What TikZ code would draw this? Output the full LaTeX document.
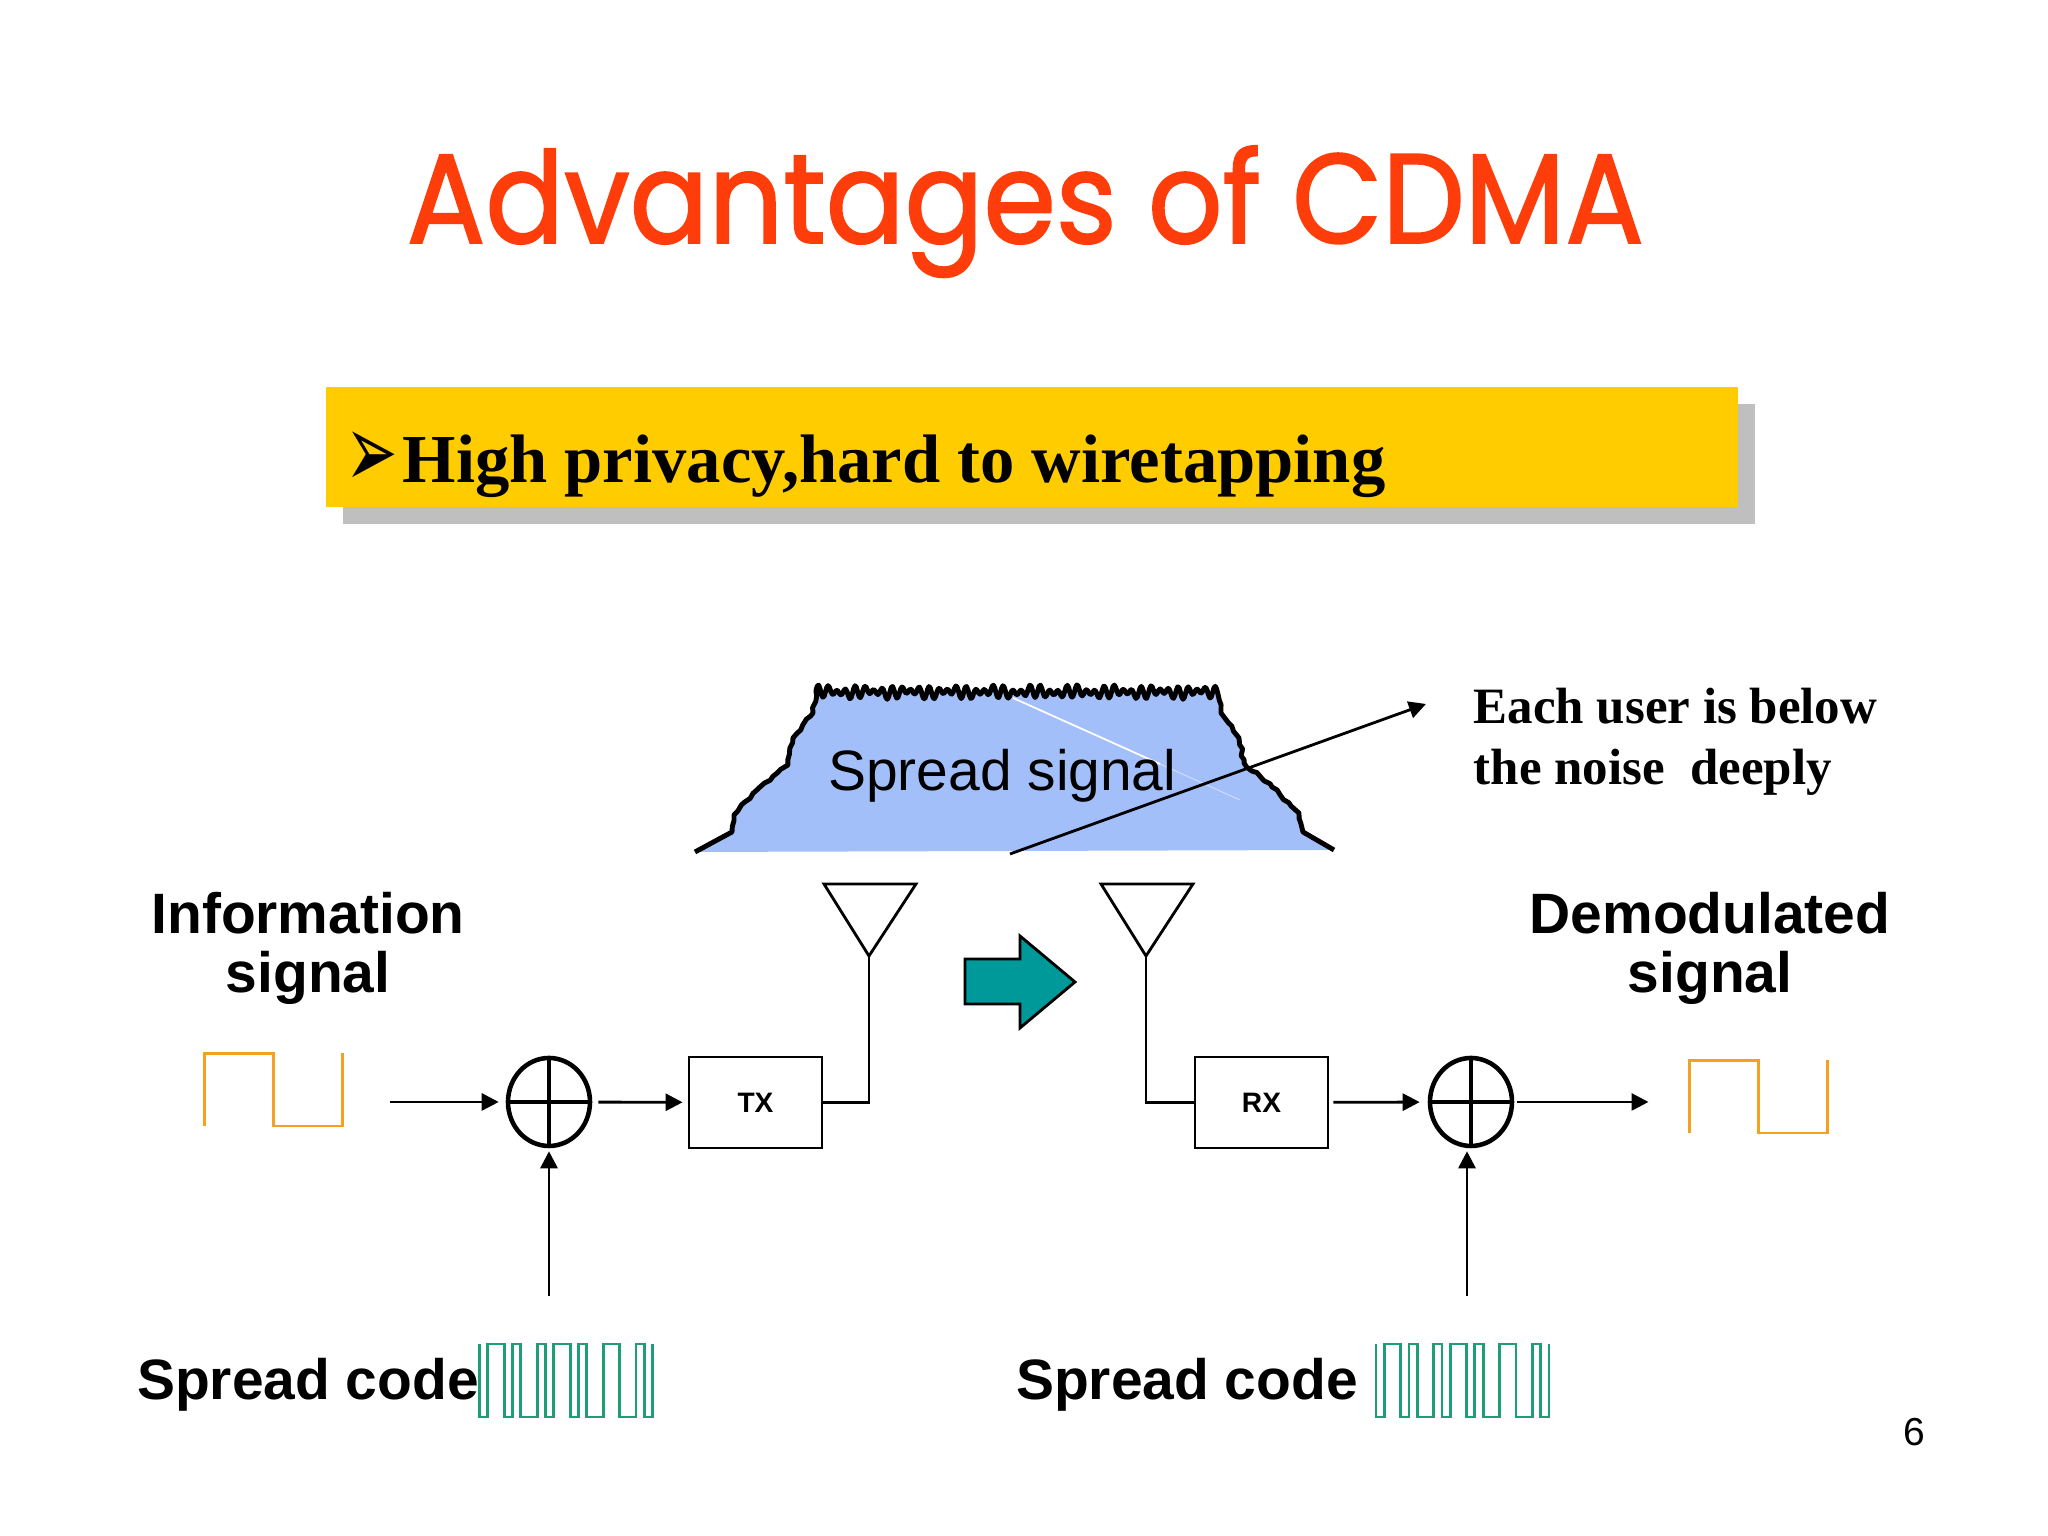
\documentclass[tikz,border=0pt]{standalone}
\usepackage{fontspec}
\usepackage{graphicx}
\setmainfont{Liberation Serif}
\setsansfont{Liberation Sans}
\newfontfamily\titlefont[FakeBold=1.5]{Poppins}
\newfontfamily\bulletfont{DejaVu Sans}
\usetikzlibrary{positioning, arrows.meta, shapes.geometric, decorations.pathmorphing}

\definecolor{titlered}{HTML}{FF3D0A}
\definecolor{baryellow}{HTML}{FFCC00}
\definecolor{barshadow}{HTML}{BFBFBF}
\definecolor{skyfill}{HTML}{A3BFFA}
\definecolor{tealfill}{HTML}{009999}
\definecolor{infoorange}{HTML}{F5A01E}
\definecolor{codegreen}{HTML}{1E9E78}

\begin{document}
\begin{tikzpicture}[
    thinline/.style={line width=0.8pt},
    arrow/.style={line width=0.8pt, -{Triangle[length=0.17cm, width=0.17cm]}},
    bigtext/.style={font=\sffamily\bfseries\fontsize{16.2}{16.8}\selectfont, align=center, inner sep=0pt},
    serifbold/.style={font=\bfseries\fontsize{14.5}{17}\selectfont, inner sep=0pt, anchor=base west},
    radiobox/.style={rectangle, draw, thinline, minimum width=1.33cm, minimum height=0.91cm, inner sep=0pt, font=\sffamily\bfseries\fontsize{8}{9}\selectfont},
    xorcircle/.style={ellipse, draw, line width=1.3pt, minimum width=0.82cm, minimum height=0.88cm, inner sep=0pt},
    barbox/.style={rectangle, minimum width=14.12cm, minimum height=1.2cm},
    roughside/.style={decoration={random steps, segment length=1.6pt, amplitude=0.4pt}},
    squarewave/.pic={
        \draw[infoorange, line width=0.8pt, x=0.69cm, y=0.725cm] (0,0) -- (0,1) -- (1,1) -- (1,0) -- (2,0) -- (2,1);
    },
    codewave/.pic={
        \draw[codegreen, line width=0.8pt, x=0.0824cm, y=0.73cm] (0,1) -- (0,0) -- (1,0) -- (1,1) -- (3,1) -- (3,0) -- (4,0) -- (4,1) -- (5,1) -- (5,0) -- (7,0) -- (7,1) -- (8,1) -- (8,0) -- (9,0) -- (9,1) -- (11,1) -- (11,0) -- (12,0) -- (12,1) -- (13,1) -- (13,0) -- (15,0) -- (15,1) -- (17,1) -- (17,0) -- (19,0) -- (19,1) -- (20,1) -- (20,0) -- (21,0) -- (21,1);
    }
]
\useasboundingbox (0,0) rectangle (20.48,15.36);

% heading
\node[anchor=base west, inner sep=0pt, text=titlered] (title) at (4.06,12.93) {\scalebox{1}[1.09]{\resizebox{12.37cm}{!}{\titlefont Advantages of CDMA}}};

\node[barbox, fill=barshadow] (barback) at (10.49,10.72) {};
\node[barbox, fill=baryellow] (bar) at (10.32,10.89) {};
\node[inner sep=0pt, anchor=base west, font=\bulletfont\fontsize{17}{17}\selectfont] (bullet) at (3.45,10.48) {\scalebox{1.05}[1.75]{➢}};
\node[inner sep=0pt, anchor=base west, font=\bfseries\fontsize{19.53}{22}\selectfont] (point) at (4.02,10.53) {High privacy,hard to wiretapping};

% spectrum
\pgfmathsetseed{7}
\draw[line width=1.4pt, line join=round, fill=skyfill] (6.95,6.84) -- (7.32,7.04)
    decorate[roughside] {-- (7.34,7.21) -- (7.60,7.49) -- (7.88,7.71) -- (7.93,7.98) -- (8.13,8.23) -- (8.16,8.44)}
    -- plot[domain=0:4.02, samples=300, variable=\t] ({8.16+\t},{8.44+0.042*sin(3900*\t)+0.025*sin(2900*\t+40)+0.012*sin(870*\t)})
    decorate[roughside] {-- (12.21,8.23) -- (12.39,7.98) -- (12.44,7.73) -- (12.72,7.49) -- (12.99,7.23) -- (13.03,7.04)} -- (13.34,6.86);
\draw[white, line width=0.5pt] (10.13,8.38) -- (11.6,7.72);
\draw[white!45!skyfill, line width=0.3pt] (11.6,7.72) -- (12.40,7.36);
\node[anchor=base west, inner sep=0pt, font=\sffamily\fontsize{16.2}{18}\selectfont] (spreadlabel) at (8.275,7.454) {Spread signal};

\coordinate (noisefrom) at (10.10,6.82);
\coordinate (noiseto) at (14.26,8.32);
\draw[arrow] (noisefrom) -- (noiseto);
\node[serifbold] (noisea) at (14.73,8.12) {Each user is below};
\node[serifbold] (noiseb) at (14.73,7.51) {the noise \ deeply};

% side labels
\node[bigtext] (infolabel) at (3.08,5.88) {Information\\signal};
\node[bigtext] (demodlabel) at (17.10,5.88) {Demodulated\\signal};

% transmit chain
\pic at (2.045,4.10) {squarewave};
\coordinate (infoout) at (3.90,4.34);
\node[xorcircle] (xora) at (5.49,4.34) {};
\node[radiobox] (tx) at (7.555,4.335) {TX};
\draw[arrow, shorten >=0.07cm] (infoout) -- (xora);
\draw[arrow, shorten <=0.06cm, shorten >=0.05cm] (xora) -- (tx);

\coordinate (apexa) at (8.69,5.80);
\draw[thinline] (apexa) -- ++(-0.45,0.72) -- ++(0.92,0) -- cycle;
\draw[thinline] (tx.east) -| (apexa);

\coordinate (codefroma) at (5.49,2.40);
\draw[arrow, shorten >=0.03cm] (codefroma) -- (codefroma |- xora.south);
\node[bigtext, anchor=base west] (codelabela) at (1.365,1.367) {Spread code};
\pic at (4.795,1.19) {codewave};

% link arrow
\draw[thinline, fill=tealfill] (9.65,5.77) -- (10.20,5.77) -- (10.20,6.00) -- (10.75,5.54) -- (10.20,5.08) -- (10.20,5.32) -- (9.65,5.32) -- cycle;

% receive chain
\coordinate (apexb) at (11.46,5.80);
\draw[thinline] (apexb) -- ++(-0.45,0.72) -- ++(0.92,0) -- cycle;
\node[radiobox] (rx) at (12.615,4.335) {RX};
\draw[thinline] (rx.west) -| (apexb);

\node[xorcircle] (xorb) at (14.71,4.34) {};
\draw[arrow, shorten <=0.04cm, shorten >=0.08cm] (rx) -- (xorb);
\coordinate (demodin) at (16.485,4.34);
\draw[arrow, shorten <=0.03cm] (xorb) -- (demodin);
\pic at (16.895,4.03) {squarewave};

\coordinate (codefromb) at (14.67,2.40);
\draw[arrow, shorten >=0.03cm] (codefromb) -- (codefromb |- xorb.south);
\node[bigtext, anchor=base west] (codelabelb) at (10.155,1.367) {Spread code};
\pic at (13.76,1.19) {codewave};

% crosses in the two adders
\foreach \adder in {xora, xorb} {
    \draw[line width=1.3pt] (\adder.north) -- (\adder.south);
    \draw[line width=1.3pt] (\adder.west) -- (\adder.east);
}

\node[inner sep=0pt, anchor=base, font=\sffamily\fontsize{11.1}{12}\selectfont] (pagenum) at (19.14,0.90) {6};

\end{tikzpicture}
\end{document}
